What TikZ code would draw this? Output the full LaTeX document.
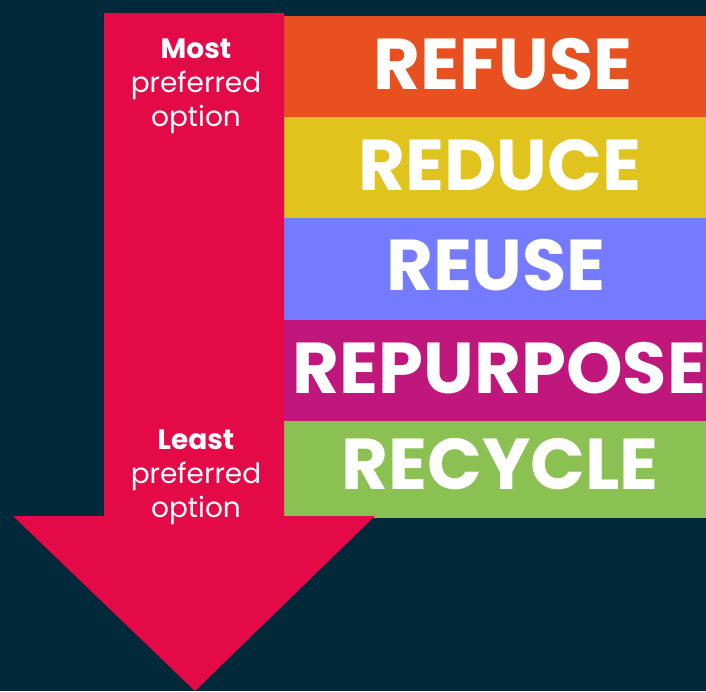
\documentclass[tikz,border=0pt]{standalone}
\usepackage{fontspec}
\usepackage{tikz}
\usepackage{xcolor}
\setmainfont{Poppins}

\definecolor{bgnavy}{RGB}{1,41,58}
\definecolor{arrowred}{RGB}{227,10,71}
\definecolor{refusecol}{RGB}{232,80,31}
\definecolor{reducecol}{RGB}{224,195,28}
\definecolor{reusecol}{RGB}{117,123,255}
\definecolor{repurposecol}{RGB}{192,23,124}
\definecolor{recyclecol}{RGB}{139,193,82}

\tikzset{
  rlabel/.style={text=white,inner sep=0pt,font=\bfseries\fontsize{72}{72}\selectfont},
  prefnote/.style={text=white,inner sep=0pt,align=center,anchor=north,font=\fontsize{28}{34}\selectfont}
}

\begin{document}
\begin{tikzpicture}[x=1pt,y=-1pt]
      \useasboundingbox (0,0) rectangle (706,691);
      \fill [bgnavy] (0,0) rectangle (706,691);
      % the five bands
      \fill [refusecol] (283.5,15.5) rectangle (706,117);
      \fill [reducecol] (283.5,117) rectangle (706,217.5);
      \fill [reusecol] (283.5,217.5) rectangle (706,319.5);
      \fill [repurposecol] (283.5,319.5) rectangle (706,421);
      \fill [recyclecol] (283.5,421) rectangle (706,517.5);
      % the big arrow
      \fill [arrowred] (104,13) -- (284,13) -- (284,516) -- (375,516)
            -- (195,691) -- (13,516) -- (104,516) -- cycle;
      \node [rlabel] (refuse) at (503,64) {REFUSE};
      \node [rlabel] (reduce) at (500,165) {REDUCE};
      \node [rlabel] (reuse) at (496,265) {REUSE};
      \node [rlabel] (repurpose) at (499.5,368) {REPURPOSE};
      \node [rlabel] (recycle) at (500,464.5) {RECYCLE};
      \node [prefnote] (most) at (196,38.5) {\textbf{Most}\\preferred\\option};
      \node [prefnote] (least) at (196,429.5) {\textbf{Least}\\preferred\\option};
    \end{tikzpicture}
\end{document}
